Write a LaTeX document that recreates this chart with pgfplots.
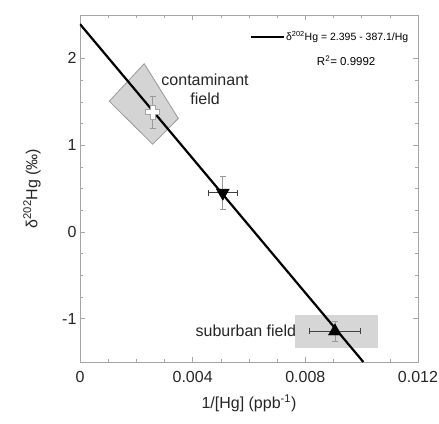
\documentclass[border=0pt]{standalone}
\usepackage{fontspec}
\setmainfont{Liberation Sans}
\usepackage{pgfplots}
\pgfplotsset{compat=1.18}
\pgfdeclareplotmark{fatplus}{%
  \pgfpathmoveto{\pgfqpoint{-2.6pt}{7pt}}%
  \pgfpathlineto{\pgfqpoint{2.6pt}{7pt}}%
  \pgfpathlineto{\pgfqpoint{2.6pt}{2.6pt}}%
  \pgfpathlineto{\pgfqpoint{7pt}{2.6pt}}%
  \pgfpathlineto{\pgfqpoint{7pt}{-2.6pt}}%
  \pgfpathlineto{\pgfqpoint{2.6pt}{-2.6pt}}%
  \pgfpathlineto{\pgfqpoint{2.6pt}{-7pt}}%
  \pgfpathlineto{\pgfqpoint{-2.6pt}{-7pt}}%
  \pgfpathlineto{\pgfqpoint{-2.6pt}{-2.6pt}}%
  \pgfpathlineto{\pgfqpoint{-7pt}{-2.6pt}}%
  \pgfpathlineto{\pgfqpoint{-7pt}{2.6pt}}%
  \pgfpathlineto{\pgfqpoint{-2.6pt}{2.6pt}}%
  \pgfpathclose
  \pgfusepathqfillstroke}
\begin{document}
\begin{tikzpicture}
\path[use as bounding box] (-80pt,-61pt) rectangle (359pt,362pt);
\begin{axis}[
  at={(0,0)}, anchor=south west,
  scale only axis, width=338pt, height=347pt,
  xmin=0, xmax=0.012, ymin=-1.5, ymax=2.5,
  xtick={0,0.004,0.008,0.012},
  xticklabels={0,0.004,0.008,0.012},
  ytick={-1,0,1,2},
  minor x tick num=3, minor y tick num=3,
  scaled x ticks=false,
  tick align=inside,
  major tick length=5pt, minor tick length=3pt,
  axis line style={draw=black!35},
  every tick/.style={draw=black!35},
  /pgf/number format/assume math mode=true,
  tick label style={font=\fontsize{16}{19}\selectfont, text=black!85},
  xticklabel style={yshift=-6pt},
  label style={font=\fontsize{16}{19}\selectfont, text=black!85},
  xlabel={1/[Hg] (ppb\textsuperscript{-1})},
  ylabel={δ\textsuperscript{202}Hg (‰)},
  xlabel style={at={(rel axis cs:0.5,-0.118)}, anchor=center},
  ylabel style={at={(rel axis cs:-0.142,0.5)}, anchor=center},
  clip=true,
  legend style={draw=none, fill=none, at={(rel axis cs:0.975,0.955)}, anchor=north east,
    font=\fontsize{10.5}{12}\selectfont, inner sep=0pt, nodes={inner sep=1pt}},
  legend image code/.code={\draw[#1] (0pt,0pt) -- (33pt,0pt);},
]
% contaminant field polygon
\addplot[fill=black!17, draw=black!40, line width=0.8pt, forget plot]
  coordinates {(0.00104,1.506) (0.00228,1.939) (0.00349,1.307) (0.00258,1.01)} -- cycle;
% suburban field rectangle
\addplot[fill=black!16, draw=none, forget plot]
  coordinates {(0.00763,-0.954) (0.01058,-0.954) (0.01058,-1.333) (0.00763,-1.333)} -- cycle;
% regression line
\addplot[black, line width=2.2pt] coordinates {(0,2.395) (0.01006,-1.5)};
\addlegendentry{δ\textsuperscript{202}Hg = 2.395 - 387.1/Hg}
% y error bars (gray)
\addplot[draw=none, mark=none, forget plot,
  error bars/.cd, y dir=both, y explicit,
  error bar style={black!40, line width=0.7pt},
  error mark options={rotate=90, mark size=3pt, black!40}]
  coordinates {
    (0.00258,1.38) +- (0,0.18)
    (0.00507,0.45) +- (0,0.19)
    (0.00905,-1.146) +- (0,0.115)
  };
% x error bars (dark)
\addplot[draw=none, mark=none, forget plot,
  error bars/.cd, x dir=both, x explicit,
  error bar style={black!75, line width=0.7pt},
  error mark options={rotate=90, mark size=3pt, black!75}]
  coordinates {
    (0.00507,0.45) +- (0.000515,0)
    (0.00905,-1.146) +- (0.00091,0)
  };
% markers
\addplot[only marks, mark=fatplus, mark options={fill=white, draw=black!35, line width=0.6pt}, forget plot]
  coordinates {(0.00258,1.38)};
\addplot[only marks, mark=triangle*, mark size=7.5pt, mark options={rotate=180, fill=black, draw=black}, forget plot]
  coordinates {(0.00507,0.45)};
\addplot[only marks, mark=triangle*, mark size=7.5pt, mark options={fill=black, draw=black}, forget plot]
  coordinates {(0.00905,-1.146)};
% labels
\node[align=center, font=\fontsize{16}{19}\selectfont, text=black!85, inner sep=0pt] at (axis cs:0.00444,1.64) {contaminant\\field};
\node[anchor=east, font=\fontsize{16}{19}\selectfont, text=black!85, inner sep=0pt] at (axis cs:0.00768,-1.14) {suburban field};
\node[font=\fontsize{11.5}{13}\selectfont, inner sep=0pt] at (axis cs:0.00945,1.97) {R\textsuperscript{2}= 0.9992};
\end{axis}
\end{tikzpicture}
\end{document}
